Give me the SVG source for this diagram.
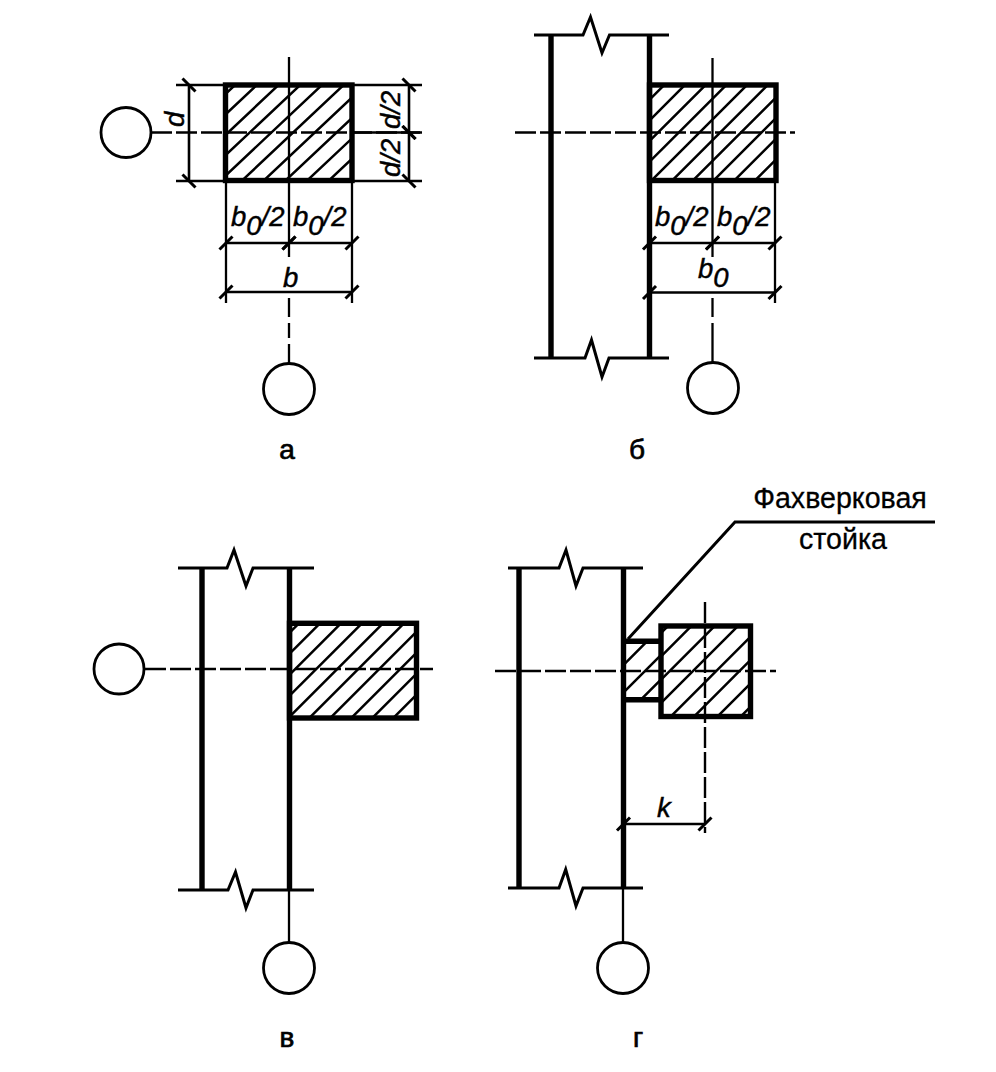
<svg xmlns="http://www.w3.org/2000/svg" width="996" height="1072" viewBox="0 0 996 1072">
<style>
.bg{fill:#fff}
.thick{fill:none;stroke:#000;stroke-width:5.400}
.thin{fill:none;stroke:#000;stroke-width:2.300}
.mid{fill:none;stroke:#000;stroke-width:3}
.axis{fill:none;stroke:#000;stroke-width:2.400;stroke-dasharray:21 4}
.dim{fill:none;stroke:#000;stroke-width:2.600;marker-start:url(#tick);marker-end:url(#tick)}
.circle{fill:#fff;stroke:#000;stroke-width:2.800}
.hatch{stroke:#000;stroke-width:2.500;fill:none}
text{font-family:"Liberation Sans",Arial,sans-serif;fill:#000;stroke:#000}
.v{font-size:27.500px;font-style:italic;stroke-width:.45}
.cap{font-size:28px;text-anchor:middle;stroke-width:.7}
.note{font-size:28.600px;text-anchor:middle;stroke-width:.3}
</style>
<defs>
<marker id="tick" markerUnits="userSpaceOnUse" markerWidth="20" markerHeight="20" refX="10" refY="10" orient="auto" overflow="visible">
<path d="M3.500 16.500L16.500 3.500" stroke="#000" stroke-width="3" fill="none"/>
</marker>
<clipPath id="ca"><rect x="226" y="85" width="126" height="96"/></clipPath>
<clipPath id="cb"><rect x="650" y="85" width="126" height="96"/></clipPath>
<clipPath id="cc"><rect x="290" y="624" width="127" height="94"/></clipPath>
<clipPath id="cd1"><rect x="624" y="641" width="37" height="59"/></clipPath>
<clipPath id="cd2"><rect x="661" y="626" width="90" height="91"/></clipPath>
</defs>
<rect class="bg" width="996" height="1072"/>

<g id="panel-a">
<g clip-path="url(#ca)"><path class="hatch" d="M251.600 69.500l-135 127M273.300 69.500l-135 127M295 69.500l-135 127M316.700 69.500l-135 127M338.400 69.500l-135 127M360.100 69.500l-135 127M381.800 69.500l-135 127M403.500 69.500l-135 127M425.200 69.500l-135 127M446.900 69.500l-135 127"/></g>
<rect class="thick" x="225.500" y="85" width="126.500" height="95.500"/>
<circle class="circle" cx="126" cy="132.500" r="25"/>
<circle class="circle" cx="289" cy="389" r="25.500"/>
</g>
<g id="panel-b">
<g clip-path="url(#cb)"><path class="hatch" d="M620 129.200l170-170M620 149.900l170-170M620 170.600l170-170M620 191.300l170-170M620 212l170-170M620 232.700l170-170M620 253.400l170-170M620 274.100l170-170M620 294.800l170-170M620 315.500l170-170M620 336.200l170-170"/></g>
<path class="thick" d="M551 35V358M649.500 35V358"/>
<rect class="thick" x="649.500" y="85" width="126.500" height="95.500"/>
<path class="mid" d="M534 35H583L590.500 17L602 53L609.500 35H669M534 358H585L591.500 340L602 377L609 358H669"/>
<circle class="circle" cx="713" cy="388" r="25.500"/>
</g>
<g id="panel-c">
<g clip-path="url(#cc)"><path class="hatch" d="M280 642.300l150-150M280 663.300l150-150M280 684.300l150-150M280 705.300l150-150M280 726.300l150-150M280 747.300l150-150M280 768.300l150-150M280 789.300l150-150M280 810.300l150-150M280 831.300l150-150"/></g>
<path class="thick" d="M202 568V890M289.500 568V890"/>
<rect class="thick" x="289.500" y="623.300" width="127" height="94.700"/>
<path class="mid" d="M178 568H227L234 550L246 586L253 568H314M178 890H228L235.500 872L246 908L253 890H314"/>
<circle class="circle" cx="119" cy="669" r="25"/>
<circle class="circle" cx="289" cy="968" r="25.500"/>
</g>
<g id="panel-d">
<g clip-path="url(#cd1)"><path class="hatch" d="M610 678.400l80-80M610 706l80-80M610 730.500l80-80"/></g>
<g clip-path="url(#cd2)"><path class="hatch" d="M650 644.100l120-120M650 667.400l120-120M650 690.700l120-120M650 714l120-120M650 737.300l120-120M650 760.600l120-120M650 784l120-120M650 807.300l120-120"/></g>
<path class="thick" d="M519 568V888M623.500 568V888M623 641.300H661M623 699.700H661"/>
<rect class="thick" x="661" y="626" width="89.500" height="90.500"/>
<path class="mid" d="M508 568H559L566 550L576 586L583 568H643M508 888H559L565.700 869.500L576 906L583 888H643"/>
<circle class="circle" cx="623" cy="968" r="25.500"/>
</g>

<g id="connectors">
<path class="axis" d="M151 132.500H420"/>
<path class="thin" d="M289 57V257"/>
<path class="thin" d="M289 298V317M289 323V338M289 344V364"/>
<path class="thin" d="M176 85H224M176 181H224M354 85H422M354 132.500H422M354 181H422"/>
<path class="thin" d="M226 182V303M352 182V303"/>
<path class="dim" d="M189 85V181"/>
<path class="dim" d="M409 85V132.500"/>
<path class="dim" d="M409 132.500V181"/>
<path class="dim" d="M226 243H289"/>
<path class="dim" d="M289 243H352"/>
<path class="dim" d="M226 292H352"/>

<path class="axis" d="M515 132.500H795"/>
<path class="thin" d="M712.500 58V257"/>
<path class="thin" d="M712.500 298V317M712.500 323V363"/>
<path class="thin" d="M775 182V303"/>
<path class="dim" d="M649.500 243H712.500"/>
<path class="dim" d="M712.500 243H775"/>
<path class="dim" d="M649.500 292.500H775"/>

<path class="axis" d="M145 669H433"/>
<path class="thin" d="M289 890V943"/>

<path class="axis" d="M495 671H776"/>
<path class="axis" d="M705 602V833"/>
<path class="dim" d="M623.500 824H705"/>
<path class="thin" d="M623 888V943"/>
<path class="mid" d="M628 639L735 522H935"/>
</g>

<g id="labels">
<text class="v" x="231" y="226">b<tspan dy="9">0</tspan><tspan dy="-9">/2</tspan></text>
<text class="v" x="293" y="226">b<tspan dy="9">0</tspan><tspan dy="-9">/2</tspan></text>
<text class="v" x="283" y="287">b</text>
<text class="v" transform="translate(184 127) rotate(-90)">d</text>
<text class="v" transform="translate(400 129) rotate(-90)">d/2</text>
<text class="v" transform="translate(400 177) rotate(-90)">d/2</text>
<text class="v" x="655" y="226">b<tspan dy="9">0</tspan><tspan dy="-9">/2</tspan></text>
<text class="v" x="717" y="226">b<tspan dy="9">0</tspan><tspan dy="-9">/2</tspan></text>
<text class="v" x="698" y="278">b<tspan dy="9">0</tspan></text>
<text class="v" x="657" y="817">k</text>
<text class="note" x="840" y="508">Фахверковая</text>
<text class="note" x="843" y="549">стойка</text>
<text class="cap" x="287" y="459">а</text>
<text class="cap" x="637" y="459">б</text>
<text class="cap" x="287" y="1047">в</text>
<text class="cap" x="638" y="1047">г</text>
</g>
</svg>
